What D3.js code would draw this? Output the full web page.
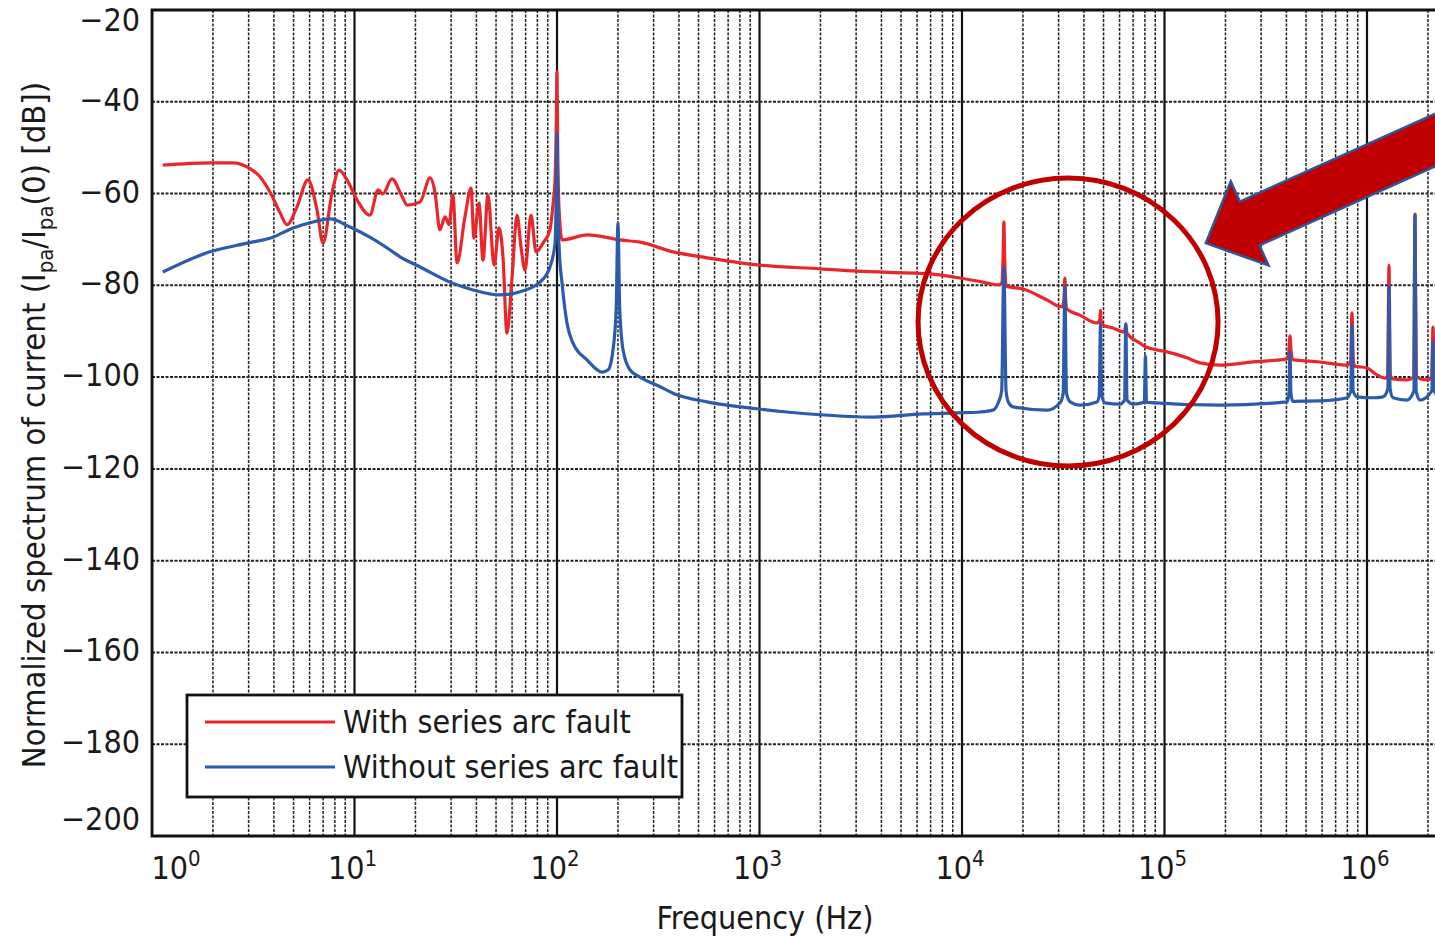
<!DOCTYPE html>
<html lang="en">
<head>
<meta charset="UTF-8" />
<title>Normalized spectrum of current</title>
<style>
  body { margin: 0; background: #fff; }
  svg { display: block; background: #fff; }
  text {
    font-family: "Liberation Sans Narrow", "DejaVu Sans Condensed", "Liberation Sans", sans-serif;
    fill: #1a1a1a;
  }
</style>
</head>
<body>
<svg id="chart"></svg>
<script src="https://cdn.jsdelivr.net/npm/d3@7"></script>
<script>
// [frequency Hz, dB]
const withFault = [
  [1.13, -53.8], [1.93, -53.3], [2.51, -53.3], [2.95, -54.2], [3.42, -56.4], [3.83, -59.7],
  [4.29, -64.2], [4.64, -66.8], [5.2, -62.9], [5.89, -57.0], [6.53, -63.6], [6.99, -70.8],
  [7.74, -59.9], [8.39, -54.9], [9.18, -57.0], [10.3, -61.4], [11.9, -64.7], [13.1, -59.2],
  [13.8, -60.1], [15.3, -56.8], [17.2, -60.7], [18.2, -62.5], [21.1, -61.8], [23.6, -56.6],
  [25.0, -59.9], [26.4, -67.9], [28.0, -65.1], [29.3, -66.8], [30.6, -60.3], [32.1, -75.1],
  [35.1, -65.1], [37.6, -58.8], [38.9, -69.7], [41.2, -62.1], [43.1, -74.5], [45.6, -60.3],
  [48.9, -75.6], [51.7, -67.5], [54.1, -73.8], [56.6, -90.4], [60.0, -78.2], [63.5, -64.7],
  [66.4, -71.6], [69.5, -76.7], [74.4, -64.7], [78.8, -72.7], [85.3, -70.8], [92.3, -67.9],
  [95.5, -62.5], [97.8, -57.0], [99.2, -45], [100, -33.5], [100.8, -50], [102.5, -64],
  [106, -70.1], [141, -69.0], [205, -70.1], [257, -70.6], [374, -72.7], [551, -74.0],
  [801, -75.1], [1006, -75.6], [1990, -76.4], [3030, -76.9], [5350, -77.3], [6950, -77.5],
  [9770, -78.4], [12700, -79.3], [15100, -79.9], [15700, -79.5], [15950, -74], [16100, -66.2],
  [16250, -74], [16500, -80.2], [17300, -80.4], [20000, -80.8], [26300, -83.2], [31200, -84.7],
  [31900, -83], [32200, -78.4], [32500, -83], [33000, -85.2], [38200, -86.5], [46400, -88.2],
  [47900, -87.5], [48300, -85.4], [48700, -88], [49500, -88.6], [55700, -89.3], [63500, -90.2],
  [64400, -88.4], [65200, -90.4], [75700, -92.6], [80500, -93.4], [103000, -94.5],
  [129000, -95.8], [150000, -96.9], [188000, -97.4], [274000, -96.7], [359000, -96.3],
  [405000, -96.0], [412000, -94], [416700, -91.0], [421000, -94], [430000, -96.2],
  [586000, -96.7], [797000, -97.4], [830000, -96.5], [843000, -86.0], [856000, -96.5],
  [870000, -97.6], [1000000, -98.0], [1120000, -99.5], [1227000, -100.2], [1265000, -99.5],
  [1284000, -75.6], [1303000, -99.5], [1340000, -100.4], [1576000, -100.6], [1700000, -100],
  [1726000, -64.5], [1752000, -100], [1979000, -100.6], [2085000, -100], [2118000, -89.1],
  [2150000, -100], [2300000, -100.5]
];

const withoutFault = [
  [1.13, -77.1], [1.93, -72.7], [2.95, -70.8], [3.96, -69.5], [4.97, -67.5], [6.24, -66.2],
  [7.57, -65.5], [9.5, -67.3], [11.9, -69.5], [15.0, -72.3], [16.8, -73.8], [21.1, -76.0],
  [29.6, -79.3], [38.5, -81.0], [52.3, -82.1], [65.7, -81.4], [82.4, -79.3], [92.3, -76.0],
  [97.8, -70.8], [99.3, -58], [100, -46.8], [100.7, -60], [102.5, -72], [105.9, -79.5],
  [112, -88.2], [120, -92.6], [141, -96.3], [167, -98.9], [179, -98.4], [189, -94.1],
  [196, -85], [200, -66.4], [204, -85], [212, -94.1], [229, -98.4], [257, -100.0],
  [323, -102.1], [374, -103.5], [551, -105.4], [972, -106.9], [1990, -108.2], [3640, -108.7],
  [6420, -108.0], [9450, -107.8], [12300, -107.6], [14200, -107.2], [15100, -105.6],
  [15700, -103], [16100, -76.0], [16500, -103], [17000, -105.6], [17900, -106.5],
  [26300, -107.2], [30500, -105.6], [31600, -103.5], [32200, -80.2], [32800, -103.5],
  [34200, -105.4], [38200, -106.1], [46400, -105.4], [47600, -104], [48300, -88.4],
  [49000, -104], [50800, -105.6], [60300, -105.9], [63500, -105], [64400, -88.4],
  [65300, -105], [69900, -105.9], [79500, -105.5], [80500, -95.4], [81500, -105.5],
  [188000, -106.1], [403000, -105.4], [412000, -103.5], [416700, -94.5], [421000, -103.5],
  [430000, -105.3], [586000, -105.2], [797000, -104.5], [832000, -103], [843000, -88.6],
  [854000, -103], [892000, -104.3], [1070000, -104.5], [1200000, -104.3], [1268000, -102.5],
  [1284000, -80.1], [1300000, -102.5], [1344000, -104.5], [1576000, -105.0], [1705000, -103],
  [1726000, -64.7], [1747000, -103], [1827000, -105.0], [2090000, -103], [2118000, -92.3],
  [2145000, -103], [2300000, -104.5]
];

const yTicks = [-20, -40, -60, -80, -100, -120, -140, -160, -180, -200];
const xDecades = [0, 1, 2, 3, 4, 5, 6];
const legendLabels = ["With series arc fault", "Without series arc fault"];
const seriesColors = ["#e8262b", "#2c5bab"];

// annotation: circled harmonics and pointing arrow (in data units)
const circleCenter = [33400, -88];
const arrowTip = [160000, -70.8];

const W = 1435, H = 938;
const plotLeft = 152, plotTop = 10, plotBottom = 836;

const svg = d3.select("#chart").attr("width", W).attr("height", H);

const x = d3.scaleLog().domain([1, Math.pow(10, 6.5)]).range([plotLeft, plotLeft + 6.5 * 202.5]);
const y = d3.scaleLinear().domain([-200, -20]).range([plotBottom, plotTop]);

svg.append("clipPath").attr("id", "plot")
  .append("rect").attr("x", plotLeft).attr("y", plotTop)
  .attr("width", W - plotLeft).attr("height", plotBottom - plotTop);

// grid
const grid = svg.append("g").attr("clip-path", "url(#plot)");
const minor = x.ticks().filter(d => Math.abs(Math.log10(d) - Math.round(Math.log10(d))) > 1e-6);
grid.selectAll(".vminor").data(minor).enter().append("line")
  .attr("x1", d => x(d)).attr("x2", d => x(d)).attr("y1", plotTop).attr("y2", plotBottom)
  .attr("stroke", "#222").attr("stroke-width", 1.5).attr("stroke-dasharray", "3,1.5");
grid.selectAll(".vmajor").data(xDecades).enter().append("line")
  .attr("x1", d => x(Math.pow(10, d))).attr("x2", d => x(Math.pow(10, d)))
  .attr("y1", plotTop).attr("y2", plotBottom)
  .attr("stroke", "#111").attr("stroke-width", 2.2);
grid.selectAll(".h").data(yTicks).enter().append("line")
  .attr("x1", plotLeft).attr("x2", W).attr("y1", d => y(d)).attr("y2", d => y(d))
  .attr("stroke", "#222").attr("stroke-width", 2).attr("stroke-dasharray", "3,1.5");

// curves
const curveLine = d3.line().x(d => x(d[0])).y(d => y(d[1])).curve(d3.curveMonotoneX);
const curves = svg.append("g").attr("clip-path", "url(#plot)")
  .attr("fill", "none").attr("stroke-width", 3.2).attr("stroke-linejoin", "round");
curves.append("path").attr("d", curveLine(withFault)).attr("stroke", seriesColors[0]);
curves.append("path").attr("d", curveLine(withoutFault)).attr("stroke", seriesColors[1]);

// frame
svg.append("path")
  .attr("d", `M${W},${plotTop}H${plotLeft}V${plotBottom}H${W}`)
  .attr("fill", "none").attr("stroke", "#111").attr("stroke-width", 2.8);

// y tick labels
svg.selectAll(".ytick").data(yTicks).enter().append("text")
  .attr("x", 140)
  .attr("y", d => y(d) + (d === -20 ? 12 : d === -200 ? -15 : 0))
  .attr("text-anchor", "end").attr("dominant-baseline", "middle")
  .attr("font-size", 32)
  .text(d => "\u2212" + Math.abs(d));

// x tick labels 10^n
const xl = svg.selectAll(".xtick").data(xDecades).enter().append("text")
  .attr("x", d => x(Math.pow(10, d)) + (d === 0 ? 24 : -2))
  .attr("y", 879).attr("text-anchor", "middle").attr("font-size", 32);
xl.append("tspan").text("10");
xl.append("tspan").attr("font-size", 22).attr("dy", -13).text(d => d);

// axis titles
svg.append("text").attr("x", 765).attr("y", 929).attr("text-anchor", "middle")
  .attr("font-size", 32).text("Frequency (Hz)");

const yl = svg.append("text").attr("transform", "translate(45,425) rotate(-90)")
  .attr("text-anchor", "middle").attr("font-size", 32.5);
yl.append("tspan").text("Normalized spectrum of current (I");
yl.append("tspan").attr("font-size", 22).attr("dy", 8).text("pa");
yl.append("tspan").attr("dy", -8).text("/I");
yl.append("tspan").attr("font-size", 22).attr("dy", 8).text("pa");
yl.append("tspan").attr("dy", -8).text("(0) [dB])");

// legend
const lg = svg.append("g");
lg.append("rect").attr("x", 187).attr("y", 695).attr("width", 495).attr("height", 102)
  .attr("fill", "#fff").attr("stroke", "#111").attr("stroke-width", 2.8);
legendLabels.forEach((lab, i) => {
  const ly = 722 + i * 45;
  lg.append("line").attr("x1", 205).attr("x2", 335).attr("y1", ly).attr("y2", ly)
    .attr("stroke", seriesColors[i]).attr("stroke-width", 3.2);
  lg.append("text").attr("x", 343).attr("y", ly + 11).attr("font-size", 32).text(lab);
});

// circle annotation
svg.append("ellipse")
  .attr("cx", x(circleCenter[0])).attr("cy", y(circleCenter[1]))
  .attr("rx", 150).attr("ry", 144)
  .attr("fill", "none").attr("stroke", "#c00000").attr("stroke-width", 5);

// arrow annotation
const arrowShape = [[0, 0], [-48, -46], [-48, -24], [-360, -24], [-360, 24], [-48, 24], [-48, 46]];
svg.append("polygon")
  .attr("points", arrowShape.map(p => p.join(",")).join(" "))
  .attr("transform", `translate(${x(arrowTip[0])},${y(arrowTip[1])}) rotate(155.8)`)
  .attr("fill", "#c00000").attr("stroke", "#2f5597").attr("stroke-width", 2.5)
  .attr("stroke-linejoin", "miter");
</script>
</body>
</html>
